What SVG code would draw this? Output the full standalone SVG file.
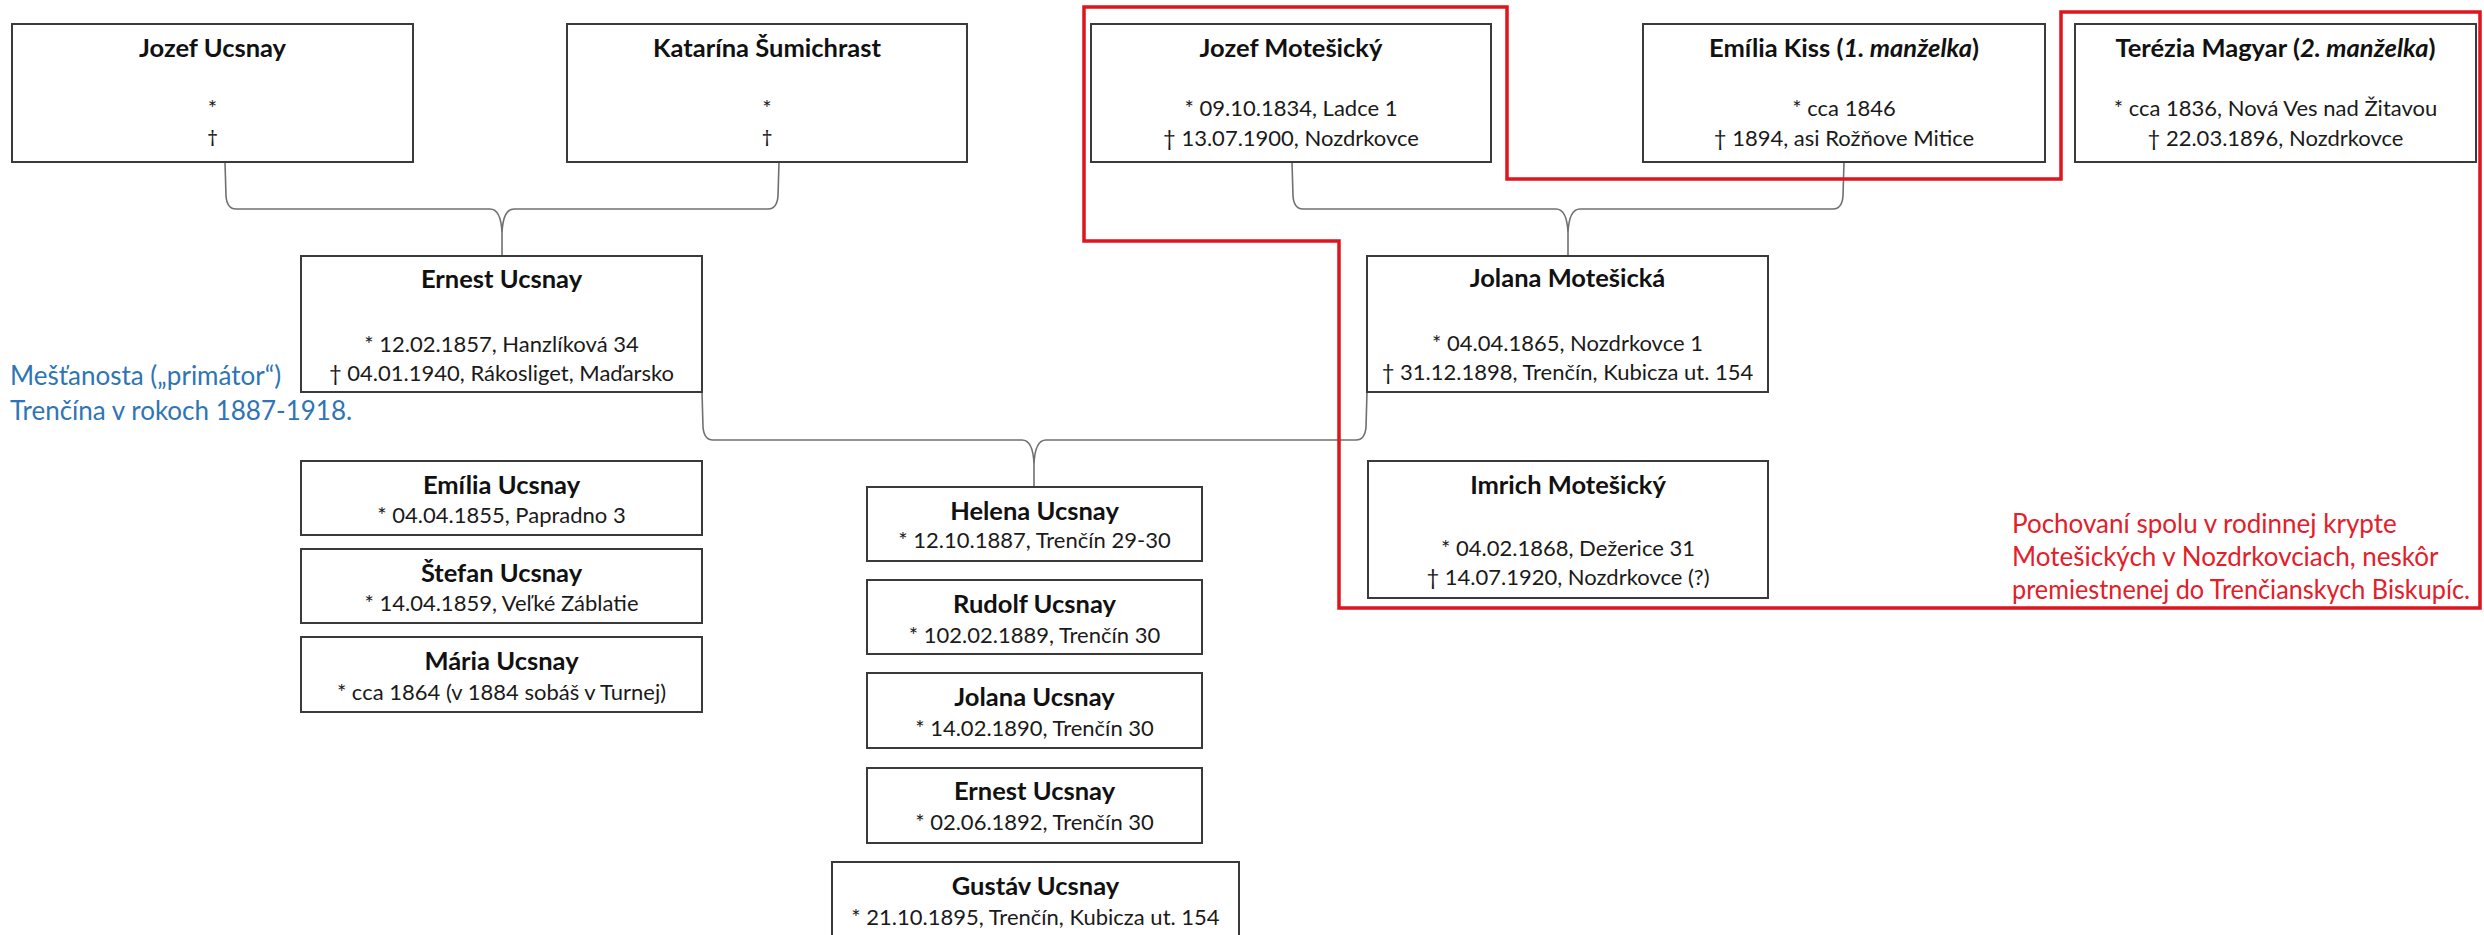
<svg xmlns="http://www.w3.org/2000/svg" width="2484" height="935" viewBox="0 0 2484 935">
<style>
.box{fill:#fff;stroke:#3a3a3a;stroke-width:2}
.t{font-family:Lato,"Open Sans","Liberation Sans",sans-serif;font-weight:700;font-size:25.5px;fill:#111;text-anchor:middle}
.d{font-family:Lato,"Open Sans","Liberation Sans",sans-serif;font-size:22px;fill:#1a1a1a;text-anchor:middle}
.dg{font-family:"Open Sans","Liberation Sans",sans-serif;fill:#1a1a1a}
.i{font-style:italic}
.conn{fill:none;stroke:#707070;stroke-width:1.6}
.red{fill:none;stroke:#e0141c;stroke-width:3.5}
.nr{font-family:Lato,"Open Sans","Liberation Sans",sans-serif;font-size:26px;fill:#e3202a}
.nb{font-family:Lato,"Open Sans","Liberation Sans",sans-serif;font-size:26px;fill:#2f75b5}
</style>
<rect width="2484" height="935" fill="#fff"/>
<g id="connectors">
<path class="conn" d="M225,162 L226,196 Q227,209 236,209 L490,209 Q501,209 502,233 L502,256 M779,162 L778,196 Q777,209 768,209 L514,209 Q503,209 502,233"/>
<path class="conn" d="M1292,162 L1293,196 Q1294,209 1303,209 L1556,209 Q1567,209 1568,233 L1568,256 M1844,162 L1843,196 Q1842,209 1833,209 L1580,209 Q1569,209 1568,233"/>
<path class="conn" d="M702,392 L703,427 Q704,440 713,440 L1022,440 Q1033,440 1034,464 L1034,487 M1367,392 L1366,427 Q1365,440 1356,440 L1046,440 Q1035,440 1034,464"/>
</g>
<g id="red-frame">
<path class="red" d="M1084,7 L1507,7 L1507,179 L2061,179 L2061,12 L2480,12 L2480,608 L1339,608 L1339,241 L1084,241 Z"/>
</g>
<g id="jozef-ucsnay">
<rect class="box" x="12" y="24" width="401" height="138"/>
<text class="t" x="212.5" y="57">Jozef Ucsnay</text>
<text class="d" x="212.5" y="116">*</text>
<text class="d" x="212.5" y="146"><tspan class="dg">†</tspan></text>
</g>
<g id="katarina-sumichrast">
<rect class="box" x="567" y="24" width="400" height="138"/>
<text class="t" x="767" y="57">Katarína Šumichrast</text>
<text class="d" x="767" y="116">*</text>
<text class="d" x="767" y="146"><tspan class="dg">†</tspan></text>
</g>
<g id="jozef-motesicky">
<rect class="box" x="1091" y="24" width="400" height="138"/>
<text class="t" x="1291" y="57">Jozef Motešický</text>
<text class="d" x="1291" y="116">* 09.10.1834, Ladce 1</text>
<text class="d" x="1291" y="146">† 13.07.1900, Nozdrkovce</text>
</g>
<g id="emilia-kiss">
<rect class="box" x="1643" y="24" width="402" height="138"/>
<text class="t" x="1844" y="57">Emília Kiss (<tspan class="i">1. manželka</tspan>)</text>
<text class="d" x="1844" y="116">* cca 1846</text>
<text class="d" x="1844" y="146">† 1894, asi Rožňove Mitice</text>
</g>
<g id="terezia-magyar">
<rect class="box" x="2075" y="24" width="401" height="138"/>
<text class="t" x="2275.5" y="57">Terézia Magyar (<tspan class="i">2. manželka</tspan>)</text>
<text class="d" x="2275.5" y="116">* cca 1836, Nová Ves nad Žitavou</text>
<text class="d" x="2275.5" y="146">† 22.03.1896, Nozdrkovce</text>
</g>
<g id="ernest-ucsnay">
<rect class="box" x="301" y="256" width="401" height="136"/>
<text class="t" x="501.5" y="288">Ernest Ucsnay</text>
<text class="d" x="501.5" y="352">* 12.02.1857, Hanzlíková 34</text>
<text class="d" x="501.5" y="381">† 04.01.1940, Rákosliget, Maďarsko</text>
</g>
<g id="jolana-motesicka">
<rect class="box" x="1367" y="256" width="401" height="136"/>
<text class="t" x="1567.5" y="287">Jolana Motešická</text>
<text class="d" x="1567.5" y="351">* 04.04.1865, Nozdrkovce 1</text>
<text class="d" x="1567.5" y="380">† 31.12.1898, Trenčín, Kubicza ut. 154</text>
</g>
<g id="imrich-motesicky">
<rect class="box" x="1368" y="461" width="400" height="137"/>
<text class="t" x="1568" y="494">Imrich Motešický</text>
<text class="d" x="1568" y="556">* 04.02.1868, Dežerice 31</text>
<text class="d" x="1568" y="585">† 14.07.1920, Nozdrkovce (?)</text>
</g>
<g id="emilia-ucsnay">
<rect class="box" x="301" y="461" width="401" height="74"/>
<text class="t" x="501.5" y="494">Emília Ucsnay</text>
<text class="d" x="501.5" y="523">* 04.04.1855, Papradno 3</text>
</g>
<g id="stefan-ucsnay">
<rect class="box" x="301" y="549" width="401" height="74"/>
<text class="t" x="501.5" y="582">Štefan Ucsnay</text>
<text class="d" x="501.5" y="611">* 14.04.1859, Veľké Záblatie</text>
</g>
<g id="maria-ucsnay">
<rect class="box" x="301" y="637" width="401" height="75"/>
<text class="t" x="501.5" y="670">Mária Ucsnay</text>
<text class="d" x="501.5" y="700">* cca 1864 (v 1884 sobáš v Turnej)</text>
</g>
<g id="helena-ucsnay">
<rect class="box" x="867" y="487" width="335" height="74"/>
<text class="t" x="1034.5" y="520">Helena Ucsnay</text>
<text class="d" x="1034.5" y="548">* 12.10.1887, Trenčín 29-30</text>
</g>
<g id="rudolf-ucsnay">
<rect class="box" x="867" y="580" width="335" height="74"/>
<text class="t" x="1034.5" y="613">Rudolf Ucsnay</text>
<text class="d" x="1034.5" y="643">* 102.02.1889, Trenčín 30</text>
</g>
<g id="jolana-ucsnay">
<rect class="box" x="867" y="673" width="335" height="75"/>
<text class="t" x="1034.5" y="706">Jolana Ucsnay</text>
<text class="d" x="1034.5" y="736">* 14.02.1890, Trenčín 30</text>
</g>
<g id="ernest-ucsnay-jr">
<rect class="box" x="867" y="768" width="335" height="75"/>
<text class="t" x="1034.5" y="800">Ernest Ucsnay</text>
<text class="d" x="1034.5" y="830">* 02.06.1892, Trenčín 30</text>
</g>
<g id="gustav-ucsnay">
<rect class="box" x="832" y="862" width="407" height="80"/>
<text class="t" x="1035.5" y="895">Gustáv Ucsnay</text>
<text class="d" x="1035.5" y="925">* 21.10.1895, Trenčín, Kubicza ut. 154</text>
</g>
<g id="note-blue">
<text class="nb" x="10" y="385">Mešťanosta („primátor“)</text>
<text class="nb" x="10" y="420">Trenčína v rokoch 1887-1918.</text>
</g>
<g id="note-red">
<text class="nr" x="2012" y="533">Pochovaní spolu v rodinnej krypte</text>
<text class="nr" x="2012" y="566">Motešických v Nozdrkovciach, neskôr</text>
<text class="nr" x="2012" y="599" textLength="458" lengthAdjust="spacingAndGlyphs">premiestnenej do Trenčianskych Biskupíc.</text>
</g>
</svg>
